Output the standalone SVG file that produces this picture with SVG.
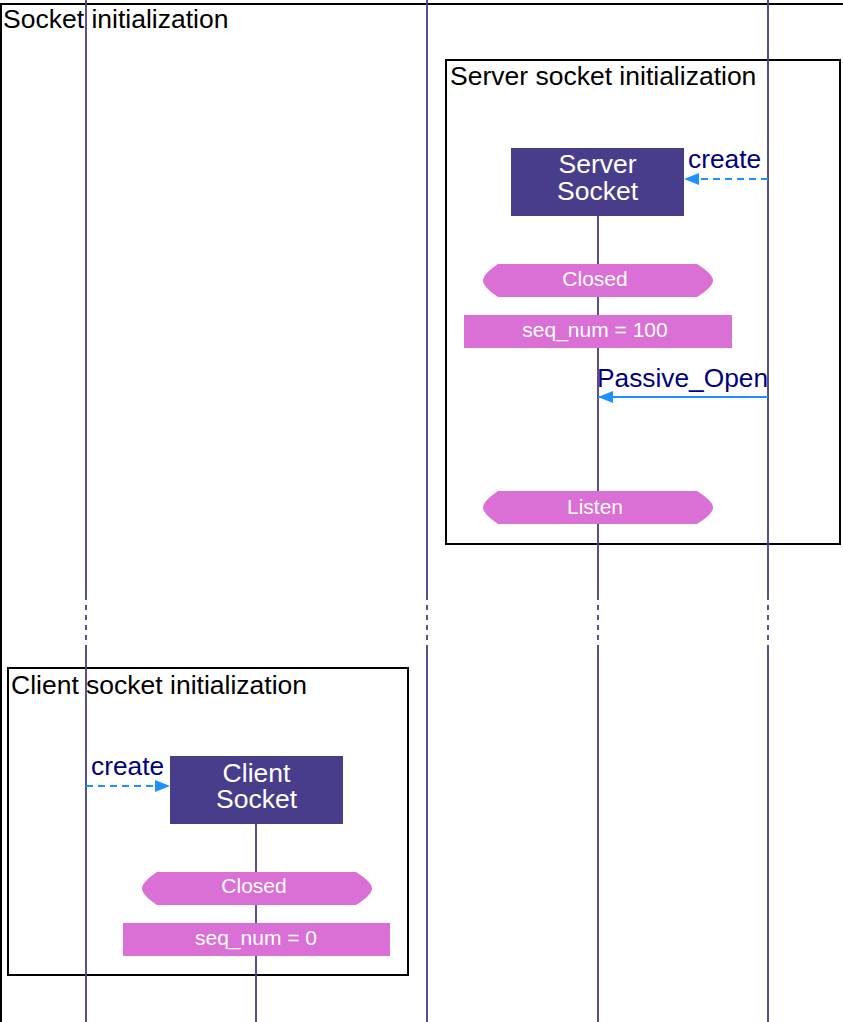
<svg xmlns="http://www.w3.org/2000/svg" width="843" height="1022" viewBox="0 0 843 1022">
<defs>
<style>
.frame{fill:none;stroke:#000;stroke-width:2}
.ftitle{font-family:"Liberation Sans",Arial,sans-serif;font-size:26.5px;fill:#000}
.life{stroke:#483D8B;stroke-width:1.8;fill:none}
.lifed{stroke:#483D8B;stroke-width:1.8;fill:none;stroke-dasharray:5 5}
.obj{fill:#483D8B}
.objt{font-family:"Liberation Sans",Arial,sans-serif;font-size:26.5px;fill:#fff;text-anchor:middle}
.state{fill:#DA70D6}
.st{font-family:"Liberation Sans",Arial,sans-serif;font-size:21px;fill:#fff;text-anchor:middle}
.msg{stroke:#1E90FF;stroke-width:2;fill:none}
.msgd{stroke:#1E90FF;stroke-width:2;fill:none;stroke-dasharray:7 5}
.ml{font-family:"Liberation Sans",Arial,sans-serif;font-size:26.3px;fill:#000080}
</style>
<marker id="ah" viewBox="0 0 15 12" refX="15" refY="6" markerWidth="15" markerHeight="12" markerUnits="userSpaceOnUse" orient="auto">
<path d="M0,0 L15,6 L0,12 z" fill="#1E90FF"/>
</marker>
</defs>
<rect width="843" height="1022" fill="#fff"/>
<g id="frames">
<g id="frame-socket-init"><rect class="frame" x="1" y="4" width="860" height="1040"/><text class="ftitle" x="3" y="28">Socket initialization</text></g>
<g id="frame-server-init"><rect class="frame" x="446" y="60" width="394" height="484"/><text class="ftitle" x="450" y="85">Server socket initialization</text></g>
<g id="frame-client-init"><rect class="frame" x="8" y="668" width="400" height="307"/><text class="ftitle" x="11" y="694">Client socket initialization</text></g>
</g>
<g id="lifelines">
<path class="life" d="M86,0 V595 M86,647 V1022"/><path class="lifed" d="M86,595 V647"/>
<path class="life" d="M427,0 V595 M427,647 V1022"/><path class="lifed" d="M427,595 V647"/>
<path class="life" d="M768,0 V595 M768,647 V1022"/><path class="lifed" d="M768,595 V647"/>
<path class="life" d="M598,216 V595 M598,647 V1022"/><path class="lifed" d="M598,595 V647"/>
<path class="life" d="M256,824 V1022"/>
</g>
<g id="server-socket"><rect class="obj" x="511" y="148" width="173" height="68"/><text class="objt" x="597.5" y="173">Server</text><text class="objt" x="597.5" y="200">Socket</text></g>
<g id="client-socket"><rect class="obj" x="170" y="756" width="173" height="68"/><text class="objt" x="256.5" y="782">Client</text><text class="objt" x="256.5" y="808">Socket</text></g>
<g id="server-closed"><path class="state" d="M498,264 H697 Q713,274 713,280.5 Q713,287 697,297 H498 Q483,287 483,280.5 Q483,274 498,264 z"/><text class="st" x="595" y="286">Closed</text></g>
<g id="server-seq"><rect class="state" x="464" y="315" width="268" height="33"/><text class="st" x="595" y="337">seq_num = 100</text></g>
<g id="server-listen"><path class="state" d="M498,491 H697 Q713,501 713,507.5 Q713,514 697,524 H498 Q483,514 483,507.5 Q483,501 498,491 z"/><text class="st" x="595" y="514">Listen</text></g>
<g id="client-closed"><path class="state" d="M157,872 H356 Q372,882 372,888.5 Q372,895 356,905 H157 Q142,895 142,888.5 Q142,882 157,872 z"/><text class="st" x="254" y="893">Closed</text></g>
<g id="client-seq"><rect class="state" x="123" y="923" width="267" height="33"/><text class="st" x="256" y="945">seq_num = 0</text></g>
<g id="connectors">
<path class="msgd" d="M768,179 H684" marker-end="url(#ah)"/><text class="ml" x="688" y="168">create</text>
<path class="msg" d="M768,397 H598" marker-end="url(#ah)"/><text class="ml" x="597" y="387">Passive_Open</text>
<path class="msgd" d="M86,786 H170" marker-end="url(#ah)"/><text class="ml" x="91" y="775">create</text>
</g>
</svg>
